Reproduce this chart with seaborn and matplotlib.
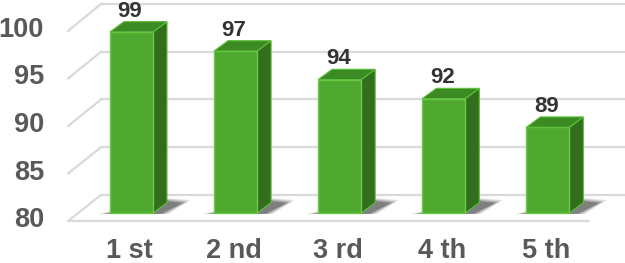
import matplotlib
matplotlib.use("Agg")
import matplotlib.pyplot as plt
from matplotlib.patches import Polygon
import seaborn as sns
import pandas as pd

categories = ["1 st", "2 nd", "3 rd", "4 th", "5 th"]
values = [99, 97, 94, 92, 89]
tick_values = [80, 85, 90, 95, 100]
base = 80

sns.set_theme(style="white")
plt.rcParams["font.family"] = ["Liberation Sans", "DejaVu Sans"]

W, H = 625, 263
fig = plt.figure(figsize=(W / 100, H / 100), dpi=100)
ax = fig.add_axes([0, 0, 1, 1])

# pixel <-> data mapping helpers (layout only)
PX_PER_UNIT = 9.53
PX_PER_CAT = 104.1
X0 = 131.5
Y0 = 213.0


def vx(px):
    return (px - X0) / PX_PER_CAT


def vy(py):
    return base + (Y0 - py) / PX_PER_UNIT


grid_c = "#d9d9d9"
# back wall gridlines and side wall diagonals
for t in tick_values:
    yb = 195 - (t - base) * 9.55
    yf = 221 - (t - base) * 9.5
    ax.plot([vx(101), vx(625)], [vy(yb), vy(yb)], color=grid_c, lw=1.6, zorder=0)
    ax.plot([vx(68), vx(101)], [vy(yf), vy(yb)], color=grid_c, lw=1.6, zorder=0)
    ax.text(vx(44), vy(yf - 1), str(t), ha="right", va="center", fontsize=19.5,
            fontweight="bold", color="#595959")
# floor front edge
ax.plot([vx(68), vx(589)], [vy(221), vy(221)], color=grid_c, lw=1.6, zorder=0)

df = pd.DataFrame({"cat": categories, "val": values})
bw = 43 / PX_PER_CAT
sns.barplot(data=df, x="cat", y="val", ax=ax, color="#4fa82f", width=bw,
            saturation=1, edgecolor="#6ccb45", linewidth=1.0, zorder=3)
ax.set_xlim(vx(0), vx(W))
ax.set_ylim(vy(H), vy(0))
ax.axis("off")

dx = 14 / PX_PER_CAT
dy = 10.3 / PX_PER_UNIT

for p in list(ax.patches):
    h = p.get_height()
    p.set_y(base)
    p.set_height(h - base)
    x0 = p.get_x()
    x1 = x0 + p.get_width()
    top = h
    # shadow on floor
    for k, a in enumerate([0.12, 0.15, 0.2, 0.28]):
        grow = (3 - k) * 2.5
        sh = Polygon([(x0 - (4 + grow) / PX_PER_CAT, base - 0.1),
                      (x1 + (8 + grow) / PX_PER_CAT, base - 0.1),
                      (x1 + (30 + grow) / PX_PER_CAT, base + (10 + grow * 0.4) / PX_PER_UNIT),
                      (x1 + 14 / PX_PER_CAT, base + (12 + grow * 0.4) / PX_PER_UNIT)],
                     closed=True, facecolor="#202020", alpha=a, lw=0, zorder=1)
        ax.add_patch(sh)
    side = Polygon([(x1, base), (x1 + dx, base + dy), (x1 + dx, top + dy), (x1, top)],
                   closed=True, facecolor="#326e1c", edgecolor="#5cbf3a", lw=0.8, zorder=2)
    ax.add_patch(side)
    topf = Polygon([(x0, top), (x1, top), (x1 + dx, top + dy), (x0 + dx, top + dy)],
                   closed=True, facecolor="#3c8a24", edgecolor="#5cbf3a", lw=0.8, zorder=4)
    ax.add_patch(topf)
    ax.text(x0 + (x1 - x0) / 2 - 1.5 / PX_PER_CAT, top + dy + 5 / PX_PER_UNIT,
            f"{h:g}", ha="center", va="baseline", fontsize=16, fontweight="bold",
            color="#333333", zorder=5)

for i, c in enumerate(categories):
    ax.text(i - 2 / PX_PER_CAT, vy(251), c, ha="center", va="center", fontsize=19.5,
            fontweight="bold", color="#595959")

fig.savefig("out.png", dpi=100)
